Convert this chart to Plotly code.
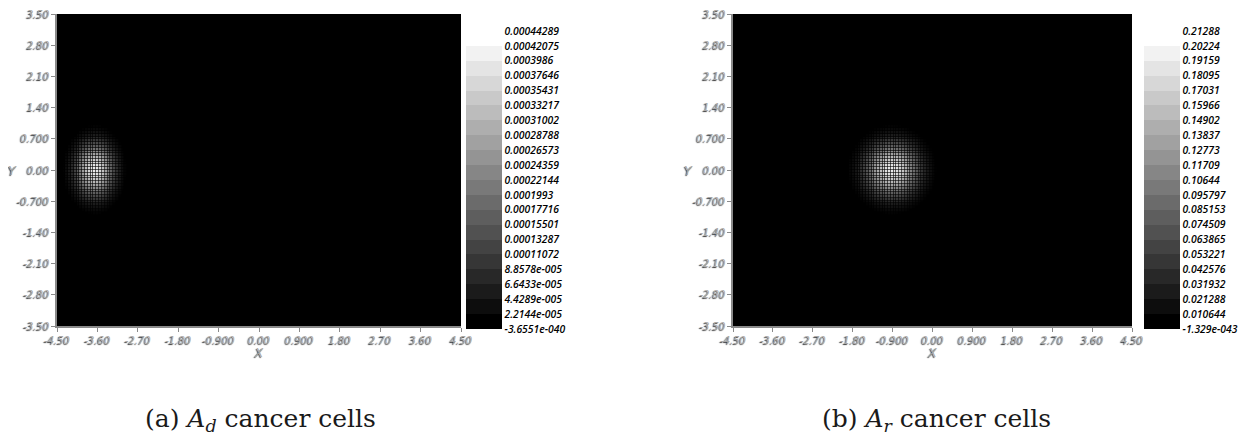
import numpy as np
import plotly.graph_objects as go

# the page adds an 8px body margin, so the figure is sized to fit inside the window
OFF = 8
W, H = 1248 - OFF, 435 - OFF

# ---------------- data ----------------
x_tickvals = [-4.5, -3.6, -2.7, -1.8, -0.9, 0.0, 0.9, 1.8, 2.7, 3.6, 4.5]
x_ticktext = ["-4.50", "-3.60", "-2.70", "-1.80", "-0.900", "0.00", "0.900", "1.80", "2.70", "3.60", "4.50"]
y_tickvals = [3.5, 2.8, 2.1, 1.4, 0.7, 0.0, -0.7, -1.4, -2.1, -2.8, -3.5]
y_ticktext = ["3.50", "2.80", "2.10", "1.40", "0.700", "0.00", "-0.700", "-1.40", "-2.10", "-2.80", "-3.50"]

# colour-bar labels, top to bottom
cb_labels_d = ["0.00044289", "0.00042075", "0.0003986", "0.00037646", "0.00035431", "0.00033217",
               "0.00031002", "0.00028788", "0.00026573", "0.00024359", "0.00022144", "0.0001993",
               "0.00017716", "0.00015501", "0.00013287", "0.00011072", "8.8578e-005", "6.6433e-005",
               "4.4289e-005", "2.2144e-005", "-3.6551e-040"]
cb_labels_r = ["0.21288", "0.20224", "0.19159", "0.18095", "0.17031", "0.15966", "0.14902",
               "0.13837", "0.12773", "0.11709", "0.10644", "0.095797", "0.085153", "0.074509",
               "0.063865", "0.053221", "0.042576", "0.031932", "0.021288", "0.010644", "-1.329e-043"]

# blob (peak) parameters: centre, spread, peak
blob_d_center = [-3.65, 0.0]
blob_d_spread = [0.29, 0.41]
blob_d_peak = 0.00044289
blob_r_center = [-0.9, 0.0]
blob_r_spread = [0.41, 0.41]
blob_r_peak = 0.21288

captions = ["(a) <i>A<sub>d</sub></i> cancer cells", "(b) <i>A<sub>r</sub></i> cancer cells"]

# ---------------- field on the mesh ----------------
step = 0.0625
xc = np.arange(-4.5 + step / 2, 4.5, step)
yc = np.arange(-3.5 + step / 2, 3.5, step)
XX, YY = np.meshgrid(xc, yc)


def field(center, spread, peak):
    return peak * np.exp(-((XX - center[0]) ** 2 / (2 * spread[0] ** 2)
                           + (YY - center[1]) ** 2 / (2 * spread[1] ** 2)))


Zd = field(blob_d_center, blob_d_spread, blob_d_peak)
Zr = field(blob_r_center, blob_r_spread, blob_r_peak)

# discrete grey colour scale (20 bands) for the colour bar
nb = 20
cscale_bands = []
for i in range(nb):
    g = int(round(255 * i / (nb - 1)))
    c = f"rgb({g},{g},{g})"
    cscale_bands.append([i / nb, c])
    cscale_bands.append([(i + 1) / nb, c])
cscale_smooth = [[0, "rgb(0,0,0)"], [0.05, "rgb(0,0,0)"], [1, "rgb(235,235,235)"]]


def px(v):
    return (v - OFF) / W


def py(v):
    return 1 - (v - OFF) / H


panels = [
    dict(Z=Zd, labels=cb_labels_d, xdom=[px(57), px(461)], cbx=px(466), yx=12),
    dict(Z=Zr, labels=cb_labels_r, xdom=[px(733), px(1132)], cbx=px(1144), yx=688),
]

grey_txt = dict(family="DejaVu Sans", color="#a8a8a8", style="italic",
                shadow="-1px 1px 1px #333")
tick_font = dict(size=10, **grey_txt)
cb_font = dict(family="Open Sans", size=10.4, color="#000", style="italic", weight=600)

fig = go.Figure()
annotations = []
for k, p in enumerate(panels):
    xa = "x" if k == 0 else "x2"
    ya = "y" if k == 0 else "y2"
    labels = p["labels"]
    top = float(labels[0])
    tickvals = [top * (nb - j) / nb for j in range(nb + 1)]
    fig.add_trace(go.Heatmap(
        x=xc, y=yc, z=p["Z"], xaxis=xa, yaxis=ya,
        colorscale=cscale_smooth, zmin=0, zmax=top,
        xgap=0.6, ygap=0.6, showscale=False,
        hoverinfo="skip",
    ))
    # colour bar only (banded, as in the reference)
    fig.add_trace(go.Scatter(
        x=[None], y=[None], mode="markers", xaxis=xa, yaxis=ya,
        marker=dict(color=[0], colorscale=cscale_bands, cmin=0, cmax=top, showscale=True,
                    colorbar=dict(
                        x=p["cbx"], xanchor="left", y=py(31), yanchor="top",
                        len=298, lenmode="pixels", thickness=36, thicknessmode="pixels",
                        outlinewidth=0, xpad=0, ypad=0, ticks="",
                        ticklabeloverflow="allow",
                        tickvals=tickvals, ticktext=labels, tickfont=cb_font)),
        hoverinfo="skip", showlegend=False,
    ))
    axis_common = dict(showgrid=False, zeroline=False, showline=True, linecolor="#8a8a8a",
                       linewidth=1.5, ticks="outside", ticklen=4, tickcolor="#8a8a8a",
                       tickfont=tick_font, automargin=False, ticklabeloverflow="allow")
    fig.update_layout(**{
        ("xaxis" if k == 0 else "xaxis2"): dict(
            domain=p["xdom"], range=[-4.5, 4.5], anchor=ya,
            tickmode="array", tickvals=x_tickvals, ticktext=x_ticktext,
            title=dict(text="X", font=dict(size=12, **grey_txt), standoff=3),
            **axis_common),
        ("yaxis" if k == 0 else "yaxis2"): dict(
            domain=[py(326), py(14)], range=[-3.5, 3.5], anchor=xa,
            tickmode="array", tickvals=y_tickvals, ticktext=y_ticktext,
            **axis_common),
    })
    annotations.append(dict(
        text="Y", x=px(p["yx"]), y=py(170), xref="paper", yref="paper",
        showarrow=False, xanchor="center", yanchor="middle",
        font=dict(size=13, **grey_txt)))

for cap, cx in zip(captions, [260, 936]):
    annotations.append(dict(text=cap, x=px(cx), y=py(420), xref="paper", yref="paper",
                            showarrow=False, xanchor="center", yanchor="middle",
                            font=dict(family="DejaVu Serif", size=25, color="#1a1a1a")))

fig.update_layout(
    width=W, height=H, margin=dict(l=0, r=0, t=0, b=0, autoexpand=False),
    paper_bgcolor="white", plot_bgcolor="black",
    showlegend=False, annotations=annotations,
)

fig.write_html("out.html")
